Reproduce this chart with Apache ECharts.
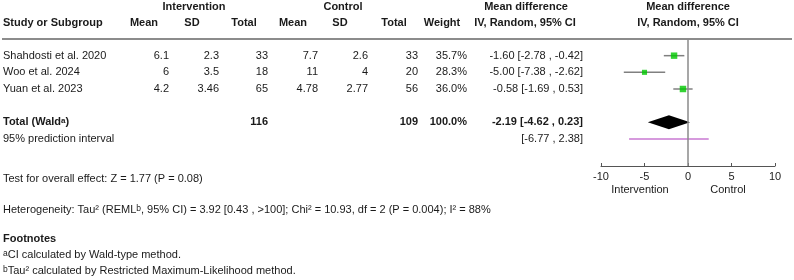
<!DOCTYPE html>
<html>
<head>
<meta charset="utf-8">
<script src="https://cdn.jsdelivr.net/npm/echarts@6/dist/echarts.min.js"></script>
<style>
  html, body { margin: 0; padding: 0; background: #fff; }
  #chart { width: 794px; height: 280px; }
</style>
</head>
<body>
<div id="chart"></div>
<script>
// 研究数据
const studies = ['Shahdosti et al. 2020', 'Woo et al. 2024', 'Yuan et al. 2023'];
const intMean = [6.1, 6, 4.2];
const intSD = [2.3, 3.5, 3.46];
const intTotal = [33, 18, 65];
const ctlMean = [7.7, 11, 4.78];
const ctlSD = [2.6, 4, 2.77];
const ctlTotal = [33, 20, 56];
const weights = [35.7, 28.3, 36.0];
const md = [-1.60, -5.00, -0.58];
const ciLow = [-2.78, -7.38, -1.69];
const ciHigh = [-0.42, -2.62, 0.53];

// 合并结果
const totalInt = 116;
const totalCtl = 109;
const totalWeight = 100.0;
const pooled = [-2.19, -4.62, 0.23];   // 估计值, 下限, 上限
const predInterval = [-6.77, 2.38];
const xTicks = [-10, 10, 5];           // min, max, interval

// 行号（第 0 行为表头分隔线）
const studyRows = [1, 2, 3];
const totalRow = 5;
const piRow = 6;
const rowMax = 7.62;

const FONT = "'Liberation Sans', Arial, sans-serif";
const TXT = '#1a1a1a';

const chart = echarts.init(document.getElementById('chart'), null, { renderer: 'canvas' });

const fmt2 = v => v.toFixed(2);
const ciText = (m, l, h) => fmt2(m) + ' [' + fmt2(l) + ' , ' + fmt2(h) + ']';

chart.setOption({
    animation: false,
    grid: { left: 601, right: 19, top: 39, bottom: 114, containLabel: false, outerBoundsMode: 'none' },
    xAxis: {
        type: 'value',
        min: xTicks[0], max: xTicks[1], interval: xTicks[2],
        position: 'bottom',
        axisLine: { onZero: false, lineStyle: { color: '#555', width: 1 } },
        axisTick: { show: true, inside: true, length: 3, lineStyle: { color: '#555' } },
        axisLabel: { color: '#222', fontSize: 11, fontFamily: FONT, margin: 5 },
        splitLine: { show: false }
    },
    yAxis: { type: 'value', min: 0, max: rowMax, inverse: true, show: false },
    series: [
        {
            // 各研究的置信区间
            type: 'custom',
            data: studyRows.map((r, i) => [ciLow[i], ciHigh[i], r]),
            renderItem: (params, api) => {
                const p1 = api.coord([api.value(0), api.value(2)]);
                const p2 = api.coord([api.value(1), api.value(2)]);
                return {
                    type: 'line',
                    shape: { x1: p1[0], y1: p1[1], x2: p2[0], y2: p2[1] },
                    style: { stroke: '#808080', lineWidth: 1.5 }
                };
            },
            z: 2
        },
        {
            // 权重方块
            type: 'scatter',
            symbol: 'rect',
            data: studyRows.map((r, i) => ({ value: [md[i], r], symbolSize: weights[i] * 0.18 })),
            itemStyle: { color: '#00c800' },
            z: 3
        },
        {
            // 合并效应菱形
            type: 'custom',
            data: [[pooled[1], pooled[0], pooled[2], totalRow]],
            renderItem: (params, api) => {
                const l = api.coord([api.value(0), api.value(3)]);
                const m = api.coord([api.value(1), api.value(3)]);
                const h = api.coord([api.value(2), api.value(3)]);
                const half = 7;
                return {
                    type: 'polygon',
                    shape: { points: [[l[0], l[1]], [m[0], m[1] - half], [h[0], h[1]], [m[0], m[1] + half]] },
                    style: { fill: '#000' }
                };
            },
            z: 3
        },
        {
            // 预测区间
            type: 'line',
            data: [[predInterval[0], piRow], [predInterval[1], piRow]],
            symbol: 'none',
            lineStyle: { color: '#c878d2', width: 1.5 },
            markLine: {
                silent: true,
                symbol: 'none',
                label: { show: false },
                lineStyle: { color: '#8a8a8a', width: 1.5, type: 'solid' },
                data: [{ xAxis: 0 }]
            },
            z: 2
        }
    ]
});

const rowY = r => chart.convertToPixel({ gridIndex: 0 }, [0, r])[1];

const els = [];
function txt(text, x, y, align, bold, rich) {
    const style = {
        text: text, x: x, y: y,
        textAlign: align || 'left', textVerticalAlign: 'middle',
        font: (bold ? 'bold ' : '') + '11px ' + FONT,
        fill: TXT
    };
    if (rich) style.rich = rich;
    els.push({ type: 'text', silent: true, style: style });
}

// 表头
txt('Intervention', 194, 7, 'center', true);
txt('Control', 343, 7, 'center', true);
txt('Mean difference', 526, 7, 'center', true);
txt('Mean difference', 688, 7, 'center', true);
txt('Study or Subgroup', 3, 23, 'left', true);
txt('Mean', 144, 23, 'center', true);
txt('SD', 192, 23, 'center', true);
txt('Total', 244, 23, 'center', true);
txt('Mean', 293, 23, 'center', true);
txt('SD', 340, 23, 'center', true);
txt('Total', 394, 23, 'center', true);
txt('Weight', 442, 23, 'center', true);
txt('IV, Random, 95% CI', 525, 23, 'center', true);
txt('IV, Random, 95% CI', 688, 23, 'center', true);

// 表头分隔线
els.push({ type: 'line', silent: true, shape: { x1: 2, y1: rowY(0), x2: 792, y2: rowY(0) }, style: { stroke: '#8c8c8c', lineWidth: 2 } });

// 各研究行
const cols = [169, 219, 268, 318, 368, 418, 467, 583];
studyRows.forEach((r, i) => {
    const y = rowY(r);
    txt(studies[i], 3, y, 'left');
    txt(String(intMean[i]), cols[0], y, 'right');
    txt(String(intSD[i]), cols[1], y, 'right');
    txt(String(intTotal[i]), cols[2], y, 'right');
    txt(String(ctlMean[i]), cols[3], y, 'right');
    txt(String(ctlSD[i]), cols[4], y, 'right');
    txt(String(ctlTotal[i]), cols[5], y, 'right');
    txt(weights[i].toFixed(1) + '%', cols[6], y, 'right');
    txt(ciText(md[i], ciLow[i], ciHigh[i]), cols[7], y, 'right');
});

// 合计行
const supB = { n: { font: 'bold 11px ' + FONT, fill: TXT }, s: { font: 'bold 8px ' + FONT, fill: TXT, verticalAlign: 'top' } };
const supN = { n: { font: '11px ' + FONT, fill: TXT }, s: { font: '8.5px ' + FONT, fill: TXT, verticalAlign: 'top' } };
let y = rowY(totalRow);
txt('{n|Total (Wald}{s|a}{n|)}', 3, y, 'left', true, supB);
txt(String(totalInt), cols[2], y, 'right', true);
txt(String(totalCtl), cols[5], y, 'right', true);
txt(totalWeight.toFixed(1) + '%', cols[6], y, 'right', true);
txt(ciText(pooled[0], pooled[1], pooled[2]), cols[7], y, 'right', true);

y = rowY(piRow);
txt('95% prediction interval', 3, y, 'left');
txt('[' + fmt2(predInterval[0]) + ' , ' + fmt2(predInterval[1]) + ']', cols[7], y, 'right');

// 坐标轴下方说明
txt('Intervention', 640, 190, 'center');
txt('Control', 728, 190, 'center');

// 底部文字
txt('Test for overall effect: Z = 1.77 (P = 0.08)', 3, 179, 'left');
txt('{n|Heterogeneity: Tau² (REML}{s|b}{n|, 95% CI) = 3.92 [0.43 , >100]; Chi² = 10.93, df = 2 (P = 0.004); I² = 88%}', 3, 210, 'left', false, supN);
txt('Footnotes', 3, 239, 'left', true);
txt('{s|a}{n|CI calculated by Wald-type method.}', 3, 255, 'left', false, supN);
txt('{s|b}{n|Tau² calculated by Restricted Maximum-Likelihood method.}', 3, 271, 'left', false, supN);

chart.setOption({ graphic: { elements: els } });
</script>
</body>
</html>
